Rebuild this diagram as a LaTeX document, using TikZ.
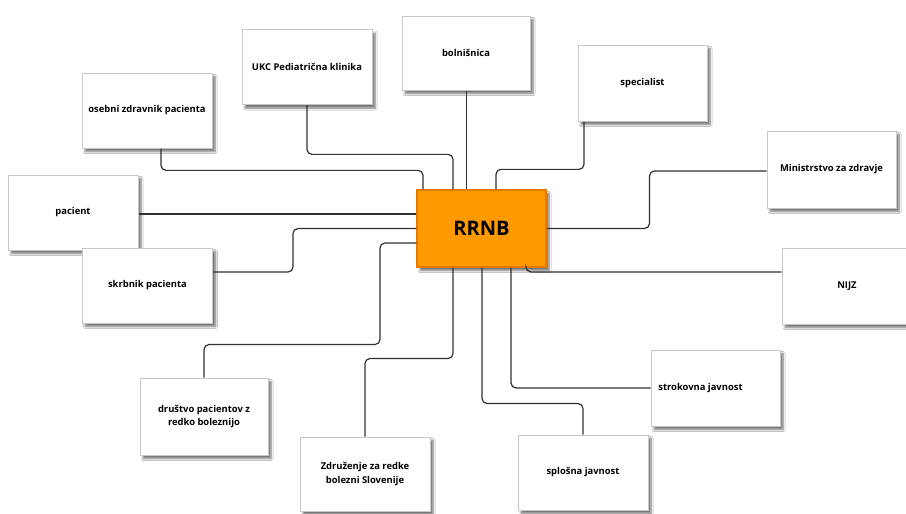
\documentclass[tikz,border=0pt]{standalone}
\usepackage{fontspec}
\setmainfont{Open Sans}
\usetikzlibrary{shadows.blur}
\definecolor{rrfill}{RGB}{255,153,0}
\definecolor{rrdraw}{RGB}{232,122,0}
\definecolor{boxdraw}{RGB}{200,200,200}
\definecolor{linec}{RGB}{50,50,50}
\tikzset{
  ent/.style={draw=boxdraw, line width=1pt, fill=white, inner sep=2pt,
    minimum width=130pt, minimum height=75pt, align=center,
    font=\fontsize{9.4}{13.5}\selectfont\bfseries,
    blur shadow={shadow xshift=3pt, shadow yshift=-3.5pt, shadow blur radius=2pt, shadow blur steps=6, shadow opacity=55}},
  hub/.style={draw=rrdraw, line width=1.3pt, fill=rrfill,
    minimum width=129pt, minimum height=77pt,
    font=\fontsize{20}{24}\selectfont\bfseries,
    blur shadow={shadow xshift=3pt, shadow yshift=-3.5pt, shadow blur radius=2pt, shadow blur steps=6, shadow opacity=55}},
  conn/.style={draw=linec, line width=1.2pt, rounded corners=5pt}
}
\begin{document}
\begin{tikzpicture}[x=1pt,y=-1pt]
\useasboundingbox (0,0) rectangle (906,514);
\fill[white] (0,0) rectangle (906,514);
\clip (0,0) rectangle (906,514);

\node[ent] (osebni) at (147,110.5) {osebni zdravnik pacienta};
\node[ent] (ukc) at (307,67) {UKC Pediatrična klinika};
\node[ent, minimum width=128pt, minimum height=74pt] (bol) at (466,53) {bolnišnica};
\node[ent, minimum width=129pt, minimum height=76pt] (spec) at (642.5,83) {specialist};
\node[ent, minimum width=129pt, minimum height=77pt] (min) at (831.5,169.5) {Ministrstvo za zdravje};
\node[ent] (pac) at (73,212.5) {pacient};
\node[ent] (skr) at (147.5,285.5) {skrbnik pacienta};
\node[ent, minimum height=76pt] (nijz) at (847,286) {NIJZ};
\node[ent, minimum width=129pt, minimum height=76pt] (strok) at (715.5,388) {strokovna javnost\hspace*{30pt}};
\node[ent, minimum width=128pt, minimum height=77pt] (drus) at (204,416.5) {društvo pacientov z\\redko boleznijo};
\node[ent, minimum height=74pt] (zdr) at (365,474) {Združenje za redke\\bolezni Slovenije};
\node[ent] (splo) at (583,472.5) {splošna javnost};
\node[hub] (rrnb) at (481.5,228.5) {RRNB};

\draw[conn] ([xshift=14pt]osebni.south) |- ([xshift=-58.5pt,yshift=19pt]rrnb.north) -- ([xshift=-58.5pt]rrnb.north);
\draw[conn] (ukc.south) |- ([xshift=-28.5pt,yshift=35pt]rrnb.north) -- ([xshift=-28.5pt]rrnb.north);
\draw[conn] ([xshift=0.5pt]bol.south) -- ([xshift=0.5pt]bol.south |- rrnb.north);
\draw[conn] ([xshift=-58.5pt]spec.south) |- ([xshift=14.5pt,yshift=20pt]rrnb.north) -- ([xshift=14.5pt]rrnb.north);
\draw[conn] (rrnb.east) -| ([xshift=-117pt,yshift=-1.5pt]min.west) -- ([yshift=-1.5pt]min.west);
\draw[conn] ([xshift=44.5pt]rrnb.south) |- ([yshift=14pt]nijz.west);
\draw[conn] ([yshift=-1.5pt]pac.east) -- ([yshift=-1.5pt]pac.east -| rrnb.west);
\draw[conn] (rrnb.west) -| ([xshift=80pt,yshift=13.5pt]skr.east) -- ([yshift=13.5pt]skr.east);
\draw[conn] ([yshift=-14.5pt]rrnb.west) -| ([xshift=176pt,yshift=33pt]drus.north) -| (drus.north);
\draw[conn] ([xshift=-28.5pt]rrnb.south) |- ([yshift=78pt]zdr.north) -- (zdr.north);
\draw[conn] ([xshift=0.5pt]rrnb.south) |- ([yshift=31pt]splo.north) -- (splo.north);
\draw[conn] ([xshift=29.5pt]rrnb.south) |- (strok.west);
\end{tikzpicture}
\end{document}
